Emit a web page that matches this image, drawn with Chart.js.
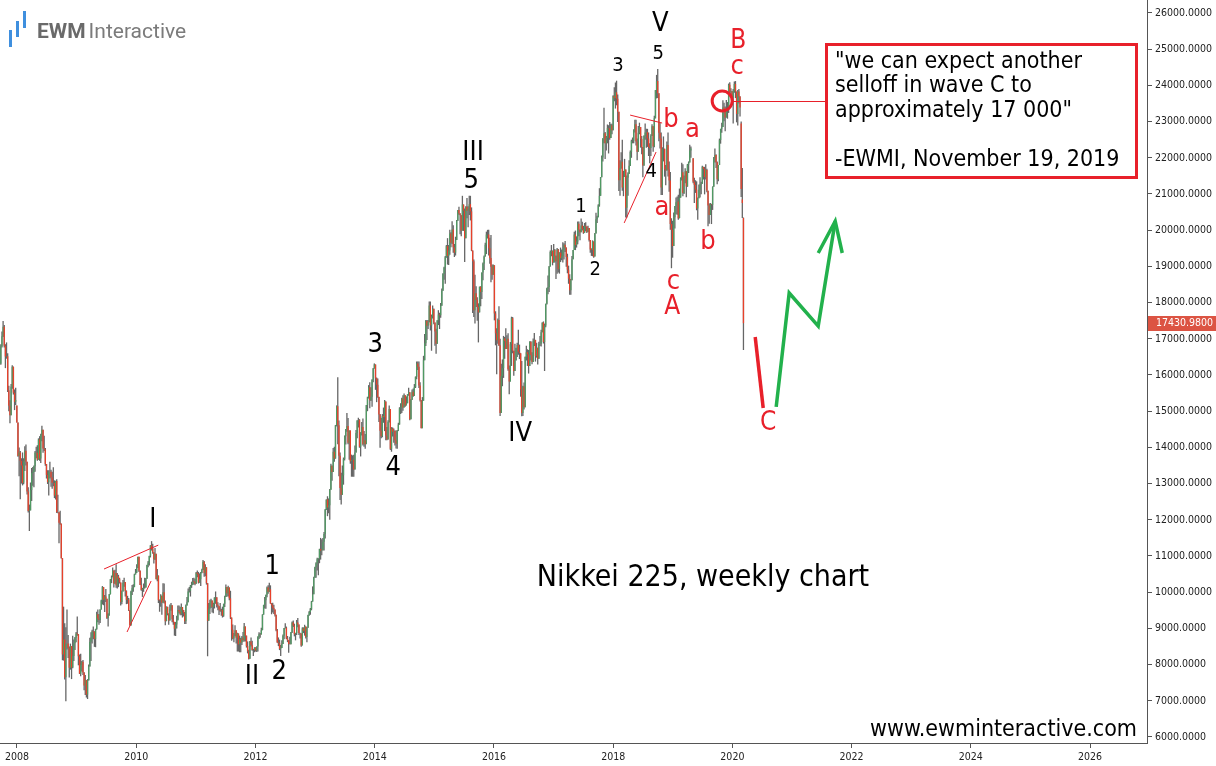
<!DOCTYPE html>
<html>
<head>
<meta charset="utf-8">
<script src="https://cdn.jsdelivr.net/npm/chart.js@4.4.1/dist/chart.umd.min.js"></script>
<style>
html,body{margin:0;padding:0;background:#fff;overflow:hidden}
canvas{display:block}
</style>
</head>
<body>
<canvas id="c" width="1216" height="766"></canvas>
<script>
// ---- Nikkei 225 weekly candles (week starting Monday) ----
const firstWeek = '2007-09-24';

const open = [
// 2007
16310,16790,17070,17330,16810,16510,16520,15580,15150,14890,15680,16230,15510,15260,15160,
// 2008
14690,13760,13860,13630,13500,13020,13620,13910,13600,12780,12240,12260,12820,13290,13320,13480,13860,13850,13660,14220,13690,14340,14490,13970,13940,13540,13240,13040,13330,13330,13170,13020,13020,12670,13070,12210,12210,11920,11890,10940,8280,8690,7650,8580,8580,8460,7910,8510,7920,8240,8590,8740,
// 2009
8860,8840,8230,7750,7990,8080,7780,7420,7570,7170,7570,7950,8630,8750,8920,8910,8710,8980,9390,9270,9230,9520,9770,10140,9790,9880,9820,9290,9400,9940,10360,10410,10600,10240,10530,10190,10440,10370,10270,9730,10020,10260,10280,10030,9790,9800,9500,9080,10020,10110,10140,10490,
// 2010
10550,10680,10980,10590,10200,10060,10090,10120,10130,10370,10750,10820,11000,11290,11200,11100,10910,11060,10360,10460,9780,9770,9900,9710,10000,9740,9200,9590,9410,9220,9540,9640,9250,9180,8990,9110,9240,9510,9470,9400,9590,9500,9430,9200,9630,9720,10020,10040,10180,10210,10300,10280,
// 2011
10230,10540,10500,10270,10360,10540,10610,10840,10530,10690,10250,9210,9540,9710,9770,9590,9680,9850,9860,9650,9610,9520,9490,9510,9350,9680,9870,10140,9970,10130,9830,9300,8960,8720,8800,8950,8740,8860,8560,8700,8610,8750,8680,9050,8800,8510,8370,8160,8640,8540,8400,8400,
// 2012
8460,8390,8500,8770,8840,8830,8950,9380,9650,9780,9930,10130,10010,10080,9690,9640,9560,9520,9380,8950,8610,8590,8440,8460,8570,8800,9010,9020,8720,8670,8570,8560,8890,9160,9070,8840,8870,9160,9110,8870,8860,8530,9000,8930,9050,8760,9020,9370,9450,9530,9740,9940,
// 2013
10400,10690,10800,10910,10930,11190,11150,11170,11390,11610,12280,12560,12340,12400,12830,13490,13320,13880,13690,14610,15140,14610,13770,12880,12690,13230,13680,14310,14510,14590,14130,14470,13620,13650,13660,13390,13860,14400,14740,14760,14020,14400,14560,14090,14200,14090,15170,15380,15660,15300,15400,15870,16180,
// 2014
16290,15910,15730,15390,14910,14460,14310,14870,14840,15270,14330,14220,14700,15060,13960,14520,14430,14460,14200,14100,14460,14630,15080,15100,15350,15100,15440,15160,15220,15460,15520,14780,15320,15540,15420,15670,15950,16320,16230,15710,15300,14530,15290,16410,16880,17490,17360,17460,17920,17370,17620,17820,
// 2015
17450,17200,16860,17510,17670,17650,17910,18330,18800,18970,19250,19560,19290,19440,19910,19650,20020,19530,19380,19730,20260,20560,20460,20410,19990,20710,20540,19780,20650,20540,20590,20720,20520,19440,19140,17790,18260,18070,17880,17730,18440,18290,18830,19080,19270,19600,19880,19880,19500,19230,18990,18770,
// 2016
19030,17700,17150,16960,17520,16820,14950,15970,16190,17010,16940,16720,17000,16160,15820,16850,17570,16670,16110,16410,16740,16830,16640,16600,15600,14950,15680,15110,16500,16630,16570,16250,16920,16550,16360,16930,16970,16520,16750,16450,16860,16860,17180,17450,16910,17370,17970,18380,18430,19000,19400,19430,
// 2017
19110,19450,19290,19140,19470,18920,19380,19230,19280,19470,19600,19520,19260,18910,18660,18340,18620,19200,19450,19880,19590,19690,20180,20010,19940,20130,20030,19930,20120,20100,19960,20060,19730,19470,19450,19690,19270,19910,20300,20360,20690,20950,21460,22010,22540,22680,22400,22550,22820,22810,22550,22900,
// 2018
22760,23710,23650,23810,23630,23270,21380,21720,21890,21180,21470,21680,20620,21450,21570,21780,22160,22470,22470,22760,22930,22450,22170,22690,22850,22520,22300,21790,22600,22700,22710,22530,22300,22270,22600,22870,22310,23090,23870,24120,23780,22690,22530,21180,22240,22250,21680,21650,22350,21680,21370,20170,
// 2019
20010,19560,20360,20670,20770,20790,20330,20900,21430,21600,21030,21450,21630,21210,21810,21870,22200,null,21990,21340,21250,21120,20600,20880,21120,21260,21280,21750,21690,21470,21660,21090,20680,20420,20710,20700,21200,21990,22080,21880,21410,21800,22490,22800,22850,23390,23300,23110,23290,23350,24020,23820,23840,
// 2020
23660,23850,24040,23830,23210,23830,23690,22950,20850,20340
];

const high = [
// 2007
16850,17200,17490,17380,16850,16900,16600,15700,15300,15750,16270,16230,15600,15650,15160,
// 2008
14530,14000,13900,13700,13860,13700,14030,14080,13600,12900,12420,13030,13430,13460,13500,13900,14020,14060,14250,14310,14380,14600,14440,14320,13980,13520,13370,13370,13600,13380,13330,13450,13090,13080,13120,12690,12210,12250,11900,10910,9600,9140,9030,9520,8820,8500,8580,8510,8800,8690,8760,8900,
// 2009
9330,8710,8280,8300,8100,8130,7790,7710,7560,7600,8000,8740,8890,8960,9050,8920,8990,9460,9520,9400,9530,9790,10170,10110,9920,10090,9700,9420,9950,10360,10460,10680,10520,10620,10770,10530,10480,10400,10200,10050,10340,10400,10260,10050,9900,9840,9500,10040,10200,10220,10510,10640,
// 2010
10770,10980,10900,10600,10400,10120,10240,10400,10390,10760,10860,11010,11300,11410,11340,11100,11220,11060,10640,10330,9800,9940,9740,10250,10240,9770,9610,9600,9330,9660,9700,9620,9370,9170,9180,9350,9630,9630,9600,9690,9530,9510,9450,9660,9870,10100,10140,10200,10290,10390,10400,10370,
// 2011
10560,10600,10560,10520,10560,10650,10890,10860,10770,10620,10040,9700,9790,9820,9770,9710,9860,10020,9860,9720,9540,9700,9540,9600,9680,9900,10210,10090,10180,10100,10040,9130,9110,8870,9090,8850,8880,8770,8800,8740,8790,8900,9150,9050,8770,8640,8410,8650,8750,8660,8430,8480,
// 2012
8480,8500,8780,8890,8870,9020,9390,9650,9870,9930,10160,10190,10260,10190,9700,9710,9650,9520,9200,8980,8750,8690,8540,8670,8830,9010,9140,9050,8790,8600,8770,8900,9190,9220,9130,8880,9230,9290,9100,8880,8860,9030,9030,9100,9010,9040,9380,9480,9560,9760,10160,10430,
// 2013
10700,10830,10950,10940,11200,11500,11460,11500,11660,12300,12560,12650,12590,12850,13550,13500,13980,14020,14620,15160,15940,14740,13860,13300,13500,13720,14330,14510,14950,14810,14470,14470,13800,13780,13800,14050,14480,14750,14820,14780,14420,14700,14800,14450,14370,15170,15400,15720,15800,15660,15880,16190,16320,
// 2014
16160,15930,15900,15400,14920,14820,14920,15100,15310,15230,14560,14750,15160,15030,14560,14550,14520,14470,14470,14480,14680,15110,15220,15370,15440,15490,15400,15410,15470,15650,15490,15330,15600,15630,15750,15960,16370,16370,16370,15800,15180,15390,16530,17130,17520,17520,17520,18030,18030,17670,17920,17840,
// 2015
17450,17280,17510,17790,17720,17990,18390,18810,18990,19290,19590,19780,19590,20010,19940,20250,20140,19620,19820,20280,20560,20650,20470,20380,20950,20630,20600,20660,20890,20660,20950,20950,20630,19440,19190,18770,18450,18150,17980,18440,18450,18830,19110,19300,19650,19960,20010,20010,19790,19870,19050,19050,
// 2016
18950,17760,17290,17560,17900,17000,16310,16430,17080,17050,17290,17100,17150,16260,16910,17610,17600,16400,16860,16750,16890,17250,16840,16430,16390,15700,15790,16510,16810,16710,16690,16930,16930,16630,17010,17160,16810,16890,16700,16920,17080,17250,17450,17480,17420,17970,18410,18750,19010,19440,19590,19440,
// 2017
19620,19480,19300,19510,19480,19390,19520,19470,19670,19640,19700,19460,19350,19020,18780,18650,19290,19450,19960,19990,19830,20240,20240,20020,20320,20230,20120,20200,20220,20080,20120,20060,19560,19500,19720,19510,19920,20480,20400,20720,21160,21470,22060,22540,23380,22710,22600,22920,22900,22990,22940,22940,
// 2018
23730,23950,24080,24130,23750,22980,21930,22150,22500,21640,21970,21480,21510,21600,21930,22200,22500,22560,22790,23050,23050,22530,22880,22970,22800,22600,22300,22620,22950,22800,22800,22700,22400,22650,22930,22800,23160,23870,24290,24450,23570,22960,22700,22290,22590,22080,21800,22450,22700,21900,21610,20330,
// 2019
20260,20490,20670,20900,20930,20980,21150,21460,21860,21820,21510,21710,21600,21830,21900,22360,22310,null,21990,21450,21380,21350,20900,21260,21460,21340,21780,21750,21750,21820,21700,21000,20740,20750,20730,21210,22020,22260,22100,21900,21800,22530,22800,22970,23590,23520,23420,23600,23540,24050,24090,23920,23820,
// 2020
23900,24110,24120,23560,23870,23900,23700,23000,21720,20350
];

const low = [
// 2007
16280,16760,17050,16760,16190,16450,15530,15000,14670,14890,15620,15460,15030,15170,14690,
// 2008
13740,13200,12570,13000,12950,12980,13350,13500,12700,12200,11690,12450,12520,12940,12900,13330,13700,13630,13710,13630,13570,14170,13850,13900,13490,13140,12990,12670,13140,12910,12860,12930,12600,12560,12190,12180,11350,11860,10930,8120,8110,7590,6990,8420,8180,7640,7860,7600,7900,8100,8400,8620,
// 2009
8800,7980,7740,7680,7810,7710,7290,7160,7090,7050,7560,8000,8100,8580,8700,8490,8480,8960,9170,9100,9150,9550,9660,9640,9450,9730,9260,9050,9350,9960,10250,10410,10130,10230,10120,10100,10140,10240,9630,9670,10040,10150,9880,9670,9680,9480,9080,9120,9920,10010,10150,10490,
// 2010
10530,10670,10560,10200,10040,9870,10010,10100,10160,10400,10690,10740,10960,11150,11060,10790,10890,10360,10300,9700,9460,9600,9380,9770,9690,9090,9220,9360,9100,9420,9490,9170,9100,8800,8790,9000,9220,9420,9360,9360,9300,9330,9120,9120,9630,9750,9990,9880,10120,10200,10210,10190,
// 2011
10350,10410,10240,10260,10170,10520,10650,10430,10440,10210,8230,9250,9400,9560,9440,9420,9550,9680,9580,9500,9370,9460,9350,9300,9320,9590,9900,9880,9880,9780,9260,8660,8700,8620,8780,8580,8360,8360,8340,8340,8540,8630,8640,8640,8470,8310,8140,8170,8500,8380,8240,8340,
// 2012
8360,8350,8360,8710,8740,8850,8960,9410,9550,9540,9860,9960,10020,9680,9390,9440,9400,9330,8920,8600,8510,8400,8240,8520,8620,8700,9000,8700,8620,8330,8560,8600,8870,9040,8780,8670,8820,9030,8820,8720,8490,8540,8870,8800,8720,8620,9050,9350,9380,9500,9810,10000,
// 2013
10400,10400,10600,10470,10800,10900,11020,11150,11150,11480,12270,12100,12180,12000,12940,13080,13400,13600,13880,14580,14090,13200,12550,12420,12920,12970,13640,14080,14430,14090,13660,13550,13190,13190,13190,13430,13940,14250,14550,13990,13750,14330,14050,14020,13960,14240,15000,15350,15080,15280,15120,15800,16180,
// 2014
15590,15250,15370,14700,13990,14250,14280,14680,14450,14200,14200,14400,14690,13930,13880,14300,14130,14050,13970,13960,14450,14690,14920,14950,15010,15130,15120,15170,15260,15430,14750,14950,15310,15400,15430,15640,15880,16140,15640,15270,14530,14800,15300,16600,16800,16970,17270,17470,17230,16670,17560,17400,
// 2015
16810,16590,16950,17380,17270,17580,17940,18400,18630,18520,19240,19050,19040,19320,19530,19620,19380,19260,19300,19850,20260,20430,19890,19830,20320,19980,19120,20040,20330,20080,20420,20270,19420,17710,17600,17420,17880,17500,16900,17830,17900,18100,18620,18900,19270,19340,19770,19300,19070,18560,18630,18790,
// 2016
17510,16820,16020,16860,16800,14870,15570,15690,15920,16450,16720,16760,16120,15470,15840,16250,16600,15980,16180,16400,16500,16560,16440,15400,14860,14870,15050,15590,16400,16250,16040,16410,16400,16300,16500,16800,16370,16480,16290,16540,16800,16790,17220,16870,16110,17320,17950,18230,18290,19140,19280,19030,
// 2017
19300,19110,18650,18800,18830,18800,19120,19170,19110,19190,19400,18990,18810,18520,18220,18220,18810,19260,19600,19450,19520,19610,19830,19720,19980,19990,19900,19980,19970,19920,19950,19690,19380,19290,19280,19240,19360,19980,20200,20390,20650,21100,21690,21900,22400,21970,22200,22400,22120,22500,22760,22650,
// 2018
23070,23560,23360,23450,22990,21080,20950,21700,21090,20940,21490,20350,20350,20950,21550,21770,22000,22400,22400,22700,22340,21930,22200,22650,22280,22100,21460,21780,22500,22280,22300,22050,21850,22050,22650,22170,22290,23100,23640,23650,22460,22260,20970,20970,21900,21480,21240,21650,21480,21060,20010,18950,
// 2019
19240,19950,20050,20440,20430,20290,20330,20950,21370,20940,21000,21300,20910,21200,21580,21950,22000,null,21300,20750,21030,20550,20290,20880,20900,20990,21550,21400,20990,21400,21050,20110,20180,20450,20170,20560,21300,21870,21720,21270,21350,21990,22390,22690,23000,23010,22730,23270,23080,23240,23770,23750,23640,
// 2020
22950,23800,23650,22980,22890,23500,23140,20920,20340,16690
];

const close = [
// 2007
16790,17070,17330,16810,16510,16520,15580,15150,14890,15680,16230,15510,15260,15310,14690,
// 2008
13760,13860,13630,13500,13020,13620,13910,13600,12780,12240,12260,12820,13290,13320,13480,13860,13850,13660,14220,13690,14340,14490,13970,13940,13540,13240,13040,13330,13330,13170,13020,13020,12670,13070,12210,12210,11920,11890,10940,8280,8690,7650,8580,8580,8460,7910,8510,7920,8240,8590,8740,8860,
// 2009
8840,8230,7750,7990,8080,7780,7420,7570,7170,7570,7950,8630,8750,8920,8910,8710,8980,9390,9270,9230,9520,9770,10140,9790,9880,9820,9290,9400,9940,10360,10410,10600,10240,10530,10190,10440,10370,10270,9730,10020,10260,10280,10030,9790,9800,9500,9080,10020,10110,10140,10490,10550,
// 2010
10680,10980,10590,10200,10060,10090,10120,10130,10370,10750,10820,11000,11290,11200,11100,10910,11060,10360,10460,9780,9770,9900,9710,10000,9740,9200,9590,9410,9220,9540,9640,9250,9180,8990,9110,9240,9510,9470,9400,9590,9500,9430,9200,9630,9720,10020,10040,10180,10210,10300,10280,10230,
// 2011
10540,10500,10270,10360,10540,10610,10840,10530,10690,10250,9210,9540,9710,9770,9590,9680,9850,9860,9650,9610,9520,9490,9510,9350,9680,9870,10140,9970,10130,9830,9300,8960,8720,8800,8950,8740,8860,8560,8700,8610,8750,8680,9050,8800,8510,8370,8160,8640,8540,8400,8400,8460,
// 2012
8390,8500,8770,8840,8830,8950,9380,9650,9780,9930,10130,10010,10080,9690,9640,9560,9520,9380,8950,8610,8590,8440,8460,8570,8800,9010,9020,8720,8670,8570,8560,8890,9160,9070,8840,8870,9160,9110,8870,8860,8530,9000,8930,9050,8760,9020,9370,9450,9530,9740,9940,10400,
// 2013
10690,10800,10910,10930,11190,11150,11170,11390,11610,12280,12560,12340,12400,12830,13490,13320,13880,13690,14610,15140,14610,13770,12880,12690,13230,13680,14310,14510,14590,14130,14470,13620,13650,13660,13390,13860,14400,14740,14760,14020,14400,14560,14090,14200,14090,15170,15380,15660,15300,15400,15870,16180,16290,
// 2014
15910,15730,15390,14910,14460,14310,14870,14840,15270,14330,14220,14700,15060,13960,14520,14430,14460,14200,14100,14460,14630,15080,15100,15350,15100,15440,15160,15220,15460,15520,14780,15320,15540,15420,15670,15950,16320,16230,15710,15300,14530,15290,16410,16880,17490,17360,17460,17920,17370,17620,17820,17450,
// 2015
17200,16860,17510,17670,17650,17910,18330,18800,18970,19250,19560,19290,19440,19910,19650,20020,19530,19380,19730,20260,20560,20460,20410,19990,20710,20540,19780,20650,20540,20590,20720,20520,19440,19140,17790,18260,18070,17880,17730,18440,18290,18830,19080,19270,19600,19880,19880,19500,19230,18990,18770,19030,
// 2016
17700,17150,16960,17520,16820,14950,15970,16190,17010,16940,16720,17000,16160,15820,16850,17570,16670,16110,16410,16740,16830,16640,16600,15600,14950,15680,15110,16500,16630,16570,16250,16920,16550,16360,16930,16970,16520,16750,16450,16860,16860,17180,17450,16910,17370,17970,18380,18430,19000,19400,19430,19110,
// 2017
19450,19290,19140,19470,18920,19380,19230,19280,19470,19600,19520,19260,18910,18660,18340,18620,19200,19450,19880,19590,19690,20180,20010,19940,20130,20030,19930,20120,20100,19960,20060,19730,19470,19450,19690,19270,19910,20300,20360,20690,20950,21460,22010,22540,22680,22400,22550,22820,22810,22550,22900,22760,
// 2018
23710,23650,23810,23630,23270,21380,21720,21890,21180,21470,21680,20620,21450,21570,21780,22160,22470,22470,22760,22930,22450,22170,22690,22850,22520,22300,21790,22600,22700,22710,22530,22300,22270,22600,22870,22310,23090,23870,24120,23780,22690,22530,21180,22240,22250,21680,21650,22350,21680,21370,20170,20010,
// 2019
19560,20360,20670,20770,20790,20330,20900,21430,21600,21030,21450,21630,21210,21810,21870,22200,22260,null,21340,21250,21120,20600,20880,21120,21260,21280,21750,21690,21470,21660,21090,20680,20420,20710,20700,21200,21990,22080,21880,21410,21800,22490,22800,22850,23390,23300,23110,23290,23350,24020,23820,23840,23660,
// 2020
23850,24040,23830,23210,23830,23690,23390,21140,20750,17430.98
];

const yearTicks = [2008, 2010, 2012, 2014, 2016, 2018, 2020, 2022, 2024, 2026];
const priceTicks = [6000, 7000, 8000, 9000, 10000, 11000, 12000, 13000, 14000, 15000, 16000,
                    17000, 18000, 19000, 20000, 21000, 22000, 23000, 24000, 25000, 26000];

// ---- Elliott-wave annotations, placed in chart units (decimal year, price) ----
const blackLabels = [
  ['I', 2010.28, 11990, 27], ['II', 2011.94, 7660, 27], ['1', 2012.28, 10700, 27], ['2', 2012.40, 7800, 27],
  ['3', 2014.01, 16830, 27], ['4', 2014.31, 13430, 27], ['III', 2015.65, 22130, 27], ['5', 2015.62, 21360, 27],
  ['IV', 2016.44, 14370, 27], ['V', 2018.79, 25700, 27],
  ['1', 2017.46, 20640, 20], ['2', 2017.70, 18900, 20], ['3', 2018.08, 24540, 20], ['5', 2018.755, 24870, 20],
  ['4', 2018.64, 21610, 20]
];
const redLabels = [
  ['b', 2018.97, 23040, 27], ['a', 2019.33, 22770, 27], ['a', 2018.82, 20610, 27], ['c', 2019.01, 18570, 27],
  ['A', 2018.99, 17880, 26], ['b', 2019.59, 19670, 27], ['B', 2020.10, 25230, 26], ['c', 2020.08, 24510, 27],
  ['C', 2020.60, 14670, 26]
];
const RED = '#e8202a', GREEN = '#22b14c';
const guideLines = [
  {pts: [[2009.46, 10640], [2010.37, 11300]], color: RED, width: 1},
  {pts: [[2009.846, 8900], [2010.25, 10310]], color: RED, width: 1},
  {pts: [[2018.285, 23180], [2018.822, 22960]], color: RED, width: 1},
  {pts: [[2018.185, 20200], [2018.72, 22160]], color: RED, width: 1},
  {pts: [[2020.383, 17050], [2020.517, 15090]], color: RED, width: 3.5},
  {pts: [[2020.735, 15120], [2020.953, 18265], [2021.44, 17350], [2021.725, 20250]], color: GREEN, width: 3.5},
  {pts: [[2021.44, 19370], [2021.725, 20250], [2021.843, 19370]], color: GREEN, width: 3.5}
];
const marker = {x: 2019.829, y: 23570, r: 10};
const quoteLines = ['"we can expect another', 'selloff in wave C to', 'approximately 17 000"', '', '-EWMI, November 19, 2019'];

// ---- build datasets ----
const UP = '#4f9a63', DOWN = '#e8412b', FLAT = '#666666', WICK = '#666666';
function weekYear(i) {
  const t0 = Date.parse(firstWeek + 'T00:00:00Z');
  const d = new Date(t0 + i * 7 * 86400000);
  const y = d.getUTCFullYear();
  const s = Date.UTC(y, 0, 1), e = Date.UTC(y + 1, 0, 1);
  return y + (d.getTime() - s) / (e - s);
}
const wickData = [], bodyData = [], bodyColors = [];
for (let i = 0; i < close.length; i++) {
  if (close[i] == null) continue;
  const xv = weekYear(i), o = open[i], c = close[i];
  wickData.push({x: xv, y: [Math.min(low[i], o, c), Math.max(high[i], o, c)]});
  bodyData.push({x: xv, y: [o, c]});
  bodyColors.push(c > o ? UP : (c < o ? DOWN : FLAT));
}

const AX_FONT = "'DejaVu Sans Condensed', 'DejaVu Sans', sans-serif";
const TXT_FONT = "'DejaVu Sans Condensed', 'DejaVu Sans', sans-serif";
const AXIS = '#555555';

const annotate = {
  id: 'annotate',
  afterDatasetsDraw(chart) {
    const {ctx, scales: {x, y}} = chart;
    const px = v => x.getPixelForValue(v), py = v => y.getPixelForValue(v);
    ctx.save();
    ctx.lineJoin = 'miter';
    for (const g of guideLines) {
      ctx.beginPath();
      g.pts.forEach((p, k) => k ? ctx.lineTo(px(p[0]), py(p[1])) : ctx.moveTo(px(p[0]), py(p[1])));
      ctx.strokeStyle = g.color; ctx.lineWidth = g.width; ctx.stroke();
    }
    ctx.textAlign = 'center'; ctx.textBaseline = 'middle';
    for (const [t, xv, yv, s] of blackLabels) {
      ctx.font = s + 'px ' + TXT_FONT; ctx.fillStyle = '#000';
      ctx.fillText(t, px(xv), py(yv));
    }
    for (const [t, xv, yv, s] of redLabels) {
      ctx.font = s + 'px ' + TXT_FONT; ctx.fillStyle = RED;
      ctx.fillText(t, px(xv), py(yv));
    }
    // circle + connector
    const cx = px(marker.x), cy = py(marker.y);
    ctx.beginPath(); ctx.arc(cx, cy, marker.r, 0, Math.PI * 2);
    ctx.strokeStyle = RED; ctx.lineWidth = 3; ctx.stroke();
    const ry = Math.round(cy) + 0.5;
    ctx.beginPath(); ctx.moveTo(cx + marker.r, ry); ctx.lineTo(826, ry);
    ctx.strokeStyle = RED; ctx.lineWidth = 1; ctx.stroke();
    ctx.restore();
  },
  afterDraw(chart) {
    const {ctx, scales: {y}} = chart;
    ctx.save();
    // quote box
    ctx.fillStyle = '#fff'; ctx.fillRect(826, 44, 311, 134);
    ctx.strokeStyle = RED; ctx.lineWidth = 3; ctx.strokeRect(826.5, 44.5, 310, 133);
    ctx.fillStyle = '#000'; ctx.font = '23px ' + TXT_FONT; ctx.textAlign = 'left'; ctx.textBaseline = 'middle';
    quoteLines.forEach((l, k) => ctx.fillText(l, 835, 62 + k * 24.5));
    // captions
    ctx.font = '30px ' + TXT_FONT; ctx.textAlign = 'center';
    ctx.fillText('Nikkei 225, weekly chart', 703, 578);
    ctx.font = '23px ' + TXT_FONT; ctx.textAlign = 'right'; ctx.textBaseline = 'alphabetic';
    ctx.fillText('www.ewminteractive.com', 1137, 736);
    // logo
    ctx.fillStyle = '#3f8fde';
    ctx.fillRect(9, 30, 3, 17); ctx.fillRect(16, 21, 3, 16); ctx.fillRect(23, 11, 3, 17);
    ctx.textAlign = 'left'; ctx.textBaseline = 'alphabetic';
    ctx.font = 'bold 21px Roboto, sans-serif'; ctx.fillStyle = '#6a6a6a';
    ctx.fillText('EWM', 37, 38);
    const w = ctx.measureText('EWM').width;
    ctx.font = '21px Roboto, sans-serif'; ctx.fillStyle = '#7b7b7b';
    ctx.fillText('Interactive', 37 + w + 3, 38);
    // last price tag
    const last = close[close.length - 1];
    const ly = Math.round(y.getPixelForValue(last));
    ctx.fillStyle = '#dc5443'; ctx.fillRect(1148, ly - 7, 68, 15);
    ctx.fillStyle = '#fff'; ctx.font = '10.5px ' + AX_FONT; ctx.textBaseline = 'middle';
    ctx.fillText(last.toFixed(4), 1156, ly + 0.5);
    ctx.restore();
  }
};

new Chart(document.getElementById('c'), {
  type: 'bar',
  data: {
    datasets: [
      {data: bodyData, backgroundColor: bodyColors, barThickness: 1.3, grouped: false, order: 0, borderWidth: 0, inflateAmount: 0},
      {data: wickData, backgroundColor: WICK, barThickness: 1.3, grouped: false, order: 1, borderWidth: 0, inflateAmount: 0}
    ]
  },
  options: {
    responsive: false, animation: false, devicePixelRatio: 1, events: [],
    layout: {padding: 0},
    plugins: {legend: {display: false}, tooltip: {enabled: false}},
    scales: {
      x: {
        type: 'linear', position: 'bottom', min: 2007.715, max: 2026.955, offset: false,
        grid: {display: true, drawOnChartArea: false, drawTicks: true, tickLength: 5, color: AXIS, offset: false},
        border: {display: true, color: AXIS, width: 1},
        ticks: {color: '#222', font: {family: AX_FONT, size: 10.5}, maxRotation: 0, autoSkip: false, padding: 3,
                callback: v => String(v)},
        afterBuildTicks: s => { s.ticks = yearTicks.map(v => ({value: v})); },
        afterFit: s => { s.height = 23; s.paddingLeft = 0; s.paddingRight = 0; }
      },
      y: {
        type: 'linear', position: 'right', min: 5834, max: 26359,
        grid: {display: true, drawOnChartArea: false, drawTicks: true, tickLength: 5, color: AXIS},
        border: {display: true, color: AXIS, width: 1},
        ticks: {color: '#222', font: {family: AX_FONT, size: 10.5}, autoSkip: false, padding: 3,
                callback: v => Number(v).toFixed(4)},
        afterBuildTicks: s => { s.ticks = priceTicks.map(v => ({value: v})); },
        afterFit: s => { s.width = 69; s.paddingTop = 0; s.paddingBottom = 0; }
      }
    }
  },
  plugins: [annotate]
});
</script>
</body>
</html>
